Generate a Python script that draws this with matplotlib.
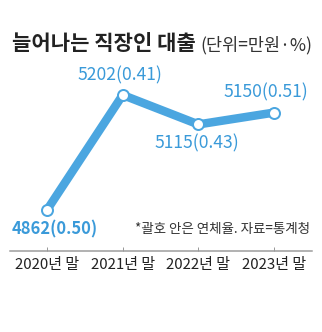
import matplotlib.pyplot as plt

plt.rcParams['font.family'] = ['Noto Sans CJK KR', 'DejaVu Sans']

years = ['2020년 말', '2021년 말', '2022년 말', '2023년 말']
loans = [4862, 5202, 5115, 5150]          # 만원
delinquency = [0.50, 0.41, 0.43, 0.51]    # %

blue = '#4ba6e0'
label_blue = '#3a9ad9'

# dpi 72 -> 1 pt == 1 px
fig = plt.figure(figsize=(322 / 72, 332 / 72), dpi=72)
ax = fig.add_axes([10 / 322, 81 / 332, 302 / 322, 251 / 332])

x = list(range(len(years)))
ax.plot(x, loans, color=blue, lw=8.5, solid_capstyle='round', zorder=2)
ax.plot(x, loans, 'o', ms=11, mfc='white', mec=blue, mew=2, zorder=3)

offsets = [(8, -19), (-3, 20), (-1, -19), (-8, 20)]
for i, (v, r) in enumerate(zip(loans, delinquency)):
    ax.annotate(f'{v}({r:.2f})', (i, v), xytext=offsets[i],
                textcoords='offset points', ha='center', va='center',
                fontsize=16.5 if i == 0 else 17.5, color=label_blue,
                fontweight='bold' if i == 0 else 'normal')

ax.set_xlim(-0.489, 3.502)
ax.set_ylim(4740.7, 5482.9)
ax.set_xticks(x)
ax.set_xticklabels(years, fontsize=15, color='#222222')
ax.set_yticks([])
for s in ['top', 'right', 'left']:
    ax.spines[s].set_visible(False)
ax.spines['bottom'].set_color('#9a9a9a')
ax.spines['bottom'].set_linewidth(1.5)
ax.tick_params(axis='x', direction='in', length=4, width=1,
               color='#9a9a9a', pad=7)
ax.patch.set_alpha(0)

fig.text(12 / 322, 1 - 44 / 332, '늘어나는 직장인 대출', fontsize=21,
         fontweight='bold', color='#222222', va='center', ha='left')
fig.text(200 / 322, 1 - 45 / 332, '(단위=만원·%)', fontsize=17.5,
         color='#333333', va='center', ha='left')
fig.text(310 / 322, 1 - 229 / 332, '*괄호 안은 연체율. 자료=통계청',
         fontsize=13.5, color='#333333', va='center', ha='right')

fig.savefig('out.png', dpi=72)
